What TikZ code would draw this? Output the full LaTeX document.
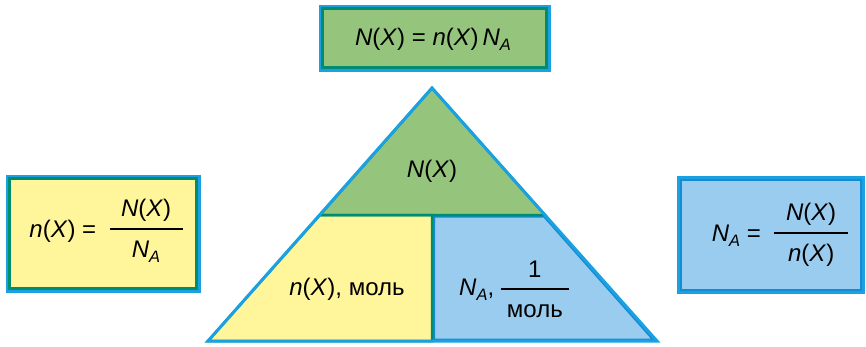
\documentclass[tikz,border=0pt]{standalone}
\usepackage{fontspec}
\setmainfont{Liberation Sans}
\definecolor{bordblue}{RGB}{27,161,226}
\definecolor{teal2}{RGB}{0,140,110}
\definecolor{gfill}{RGB}{149,196,124}
\definecolor{yfill}{RGB}{255,245,155}
\definecolor{bfill}{RGB}{153,204,238}
\definecolor{innerblue}{RGB}{20,140,210}
\newcommand{\sbA}{\raisebox{-5pt}{\fontsize{16.5}{16.5}\selectfont\itshape A}}
\newcommand{\myfr}[3]{{\renewcommand{\arraystretch}{0}\setlength{\arrayrulewidth}{1.6pt}%
\begin{tabular}{@{}c@{}}\makebox[#1]{\rule[-11pt]{0pt}{28.5pt}#2}\\\hline\makebox[#1]{\rule[-0.5pt]{0pt}{28.5pt}#3}\end{tabular}}}
\tikzset{
  txt/.style={inner sep=0pt, font=\fontsize{24}{28}\selectfont},
  outerb/.style={draw=bordblue, line width=3pt},
  innerg/.style={draw=teal2, line width=2.5pt},
  innerb/.style={draw=innerblue, line width=2pt}
}
\begin{document}
\begin{tikzpicture}[x=1pt,y=-1pt, line join=miter]
\useasboundingbox (0,0) rectangle (866,346);
% top box
\draw[outerb, fill=gfill] (320,6) rectangle (549,70);
\draw[innerg] (322.5,8.5) rectangle (546.5,67.5);
\node[txt, anchor=base] (top) at (433,45) {\textit{N}(\textit{X}) = \textit{n}(\textit{X})\,\textit{N}\sbA};
% left box
\draw[outerb, fill=yfill] (7,176) rectangle (199,291);
\draw[innerg] (9.5,178.5) rectangle (196.5,288.5);
\node[txt] (left) at (106,231) {\textit{n}(\textit{X}) = \ \myfr{73pt}{\textit{N}(\textit{X})}{\textit{N}\sbA}};
% right box
\draw[outerb, fill=bfill] (678,177) rectangle (863,292);
\draw[innerb] (680.5,179.5) rectangle (860.5,289.5);
\node[txt] (right) at (780,235) {\textit{N}\sbA\ = \ \myfr{74pt}{\textit{N}(\textit{X})}{\textit{n}(\textit{X})}};
% triangle
\coordinate (apex) at (432,88);
\coordinate (bl) at (208,341);
\coordinate (br) at (657,341);
\coordinate (ml) at (320,215);
\coordinate (mr) at (545,215);
\coordinate (mc) at (432,215);
\coordinate (bc) at (432,341);
\fill[gfill] (apex) -- (mr) -- (ml) -- cycle;
\fill[yfill] (ml) -- (mc) -- (bc) -- (bl) -- cycle;
\fill[bfill] (mc) -- (mr) -- (br) -- (bc) -- cycle;
\draw[innerb] (434,216.5) -- (544,216.5) -- (653,339.5) -- (434,339.5) -- cycle;
\draw[innerg] (apex) -- (mr) -- (ml) -- cycle;
\draw[innerg] (ml) -- (mc) -- (bc) -- (bl) -- cycle;
\draw[outerb] (apex) -- (br) -- (bl) -- cycle;
\node[txt, anchor=base] (tN) at (432,177) {\textit{N}(\textit{X})};
\node[txt, anchor=base] (tn) at (347,295) {\textit{n}(\textit{X}), моль};
\node[txt] (tNA) at (514,289) {\textit{N}\sbA, \myfr{68pt}{1}{моль}};
\end{tikzpicture}
\end{document}
